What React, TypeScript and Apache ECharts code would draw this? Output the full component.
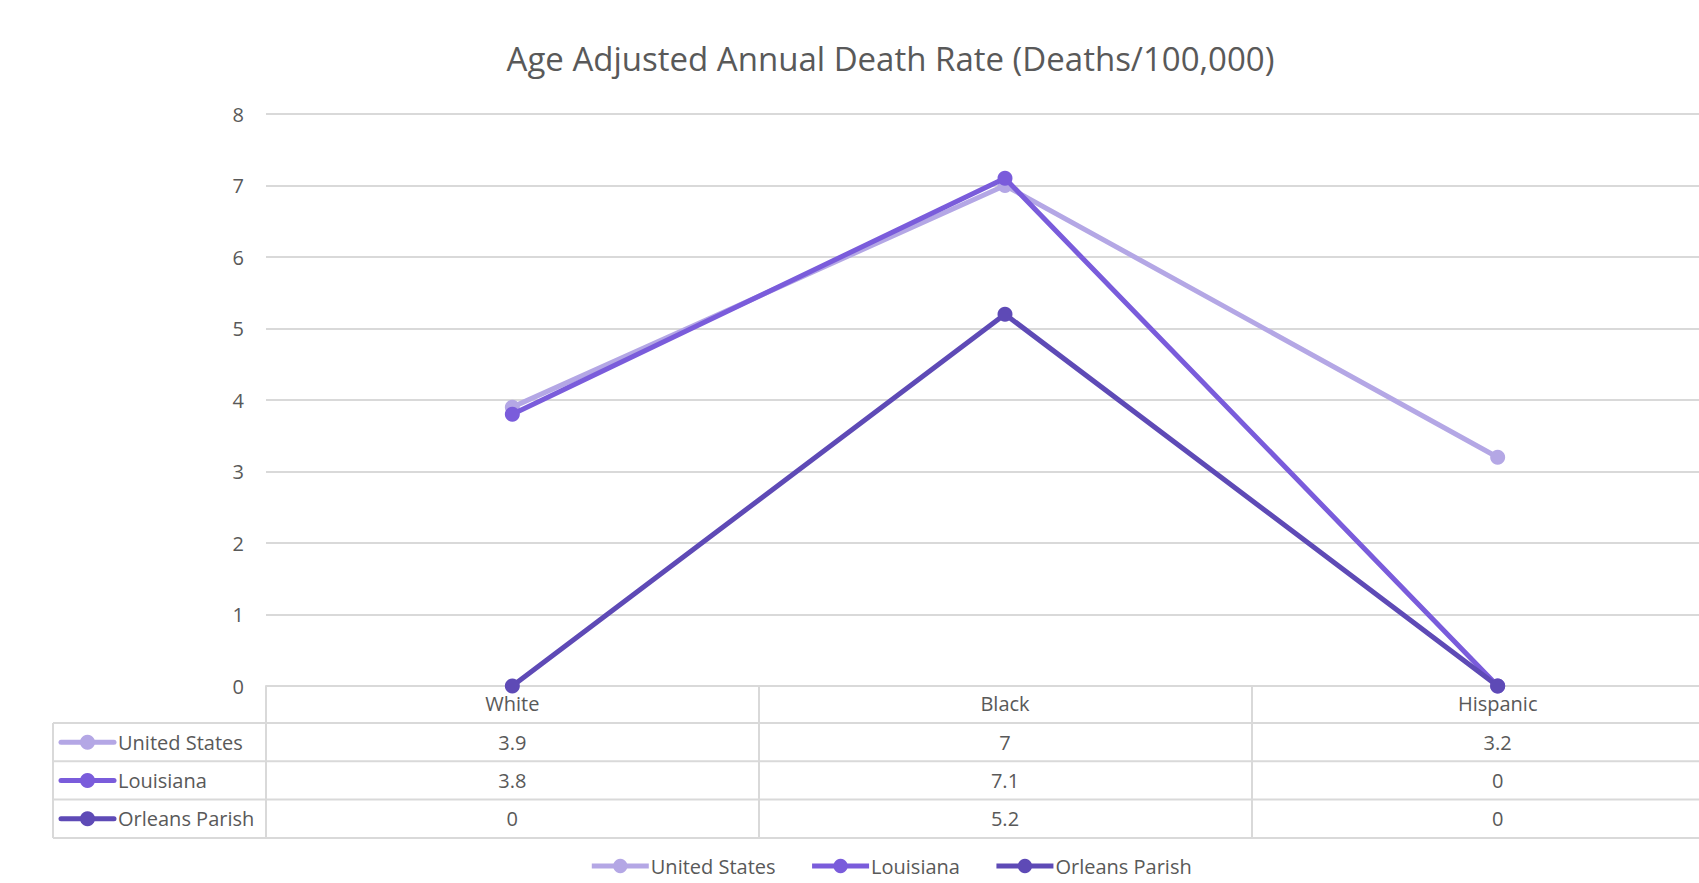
import React, { useEffect, useRef } from "react";
import * as echarts from "echarts";

const chartTitle = "Age Adjusted Annual Death Rate (Deaths/100,000)";
const categories = ["White", "Black", "Hispanic"];
const seriesNames = ["United States", "Louisiana", "Orleans Parish"];
const unitedStates = [3.9, 7, 3.2];
const louisiana = [3.8, 7.1, 0];
const orleansParish = [0, 5.2, 0];
const yMin = 0;
const yMax = 8;
const yInterval = 1;

const seriesValues = [unitedStates, louisiana, orleansParish];
const colors = ["#B4A7E5", "#7A5CDB", "#5E4AB6"];

const CHART_W = 1781;
const CHART_H = 883;
const GRID_LEFT = 266;
const GRID_RIGHT = 37;
const GRID_TOP = 114;
const AXIS_Y = 686;
const HEADER_H = 37;
const ROW_H = 38.3;
const TABLE_LEFT = 53;
const TEXT_COLOR = "#595959";
const LINE_COLOR = "#D9D9D9";
const FONT = "'Open Sans', 'Noto Sans', sans-serif";
const FS = 20;

export default function App() {
  const ref = useRef<HTMLDivElement>(null);
  useEffect(() => {
    if (!ref.current) return;
    const chart = echarts.init(ref.current, null, { renderer: "svg" });
    const option: any = {
      animation: false,
      backgroundColor: "#ffffff",
      textStyle: { fontFamily: FONT },
      title: {
        text: chartTitle,
        left: "center",
        top: 37,
        textStyle: { fontFamily: FONT, fontSize: 33, fontWeight: "normal", color: TEXT_COLOR },
      },
      legend: {
        data: seriesNames,
        left: "center",
        top: 856,
        padding: 0,
        itemWidth: 57,
        itemHeight: 18,
        itemGap: 34,
        lineStyle: { width: 5 },
        textStyle: {
          fontFamily: FONT,
          fontSize: FS,
          lineHeight: 20,
          color: TEXT_COLOR,
          padding: [0, 0, 0, -3],
        },
      },
      grid: {
        left: GRID_LEFT,
        right: GRID_RIGHT,
        top: GRID_TOP,
        bottom: CHART_H - AXIS_Y,
        containLabel: false,
      },
      xAxis: {
        type: "category",
        data: categories,
        boundaryGap: true,
        axisLine: { show: true, lineStyle: { color: LINE_COLOR, width: 2 } },
        axisTick: {
          show: true,
          interval: 0,
          length: HEADER_H + ROW_H * 3,
          lineStyle: { color: LINE_COLOR, width: 2 },
        },
        axisLabel: { color: TEXT_COLOR, fontSize: FS, fontFamily: FONT, margin: 7, interval: 0 },
        splitLine: { show: false },
      },
      yAxis: {
        type: "value",
        min: yMin,
        max: yMax,
        interval: yInterval,
        axisLine: { show: false },
        axisTick: { show: false },
        axisLabel: { color: TEXT_COLOR, fontSize: FS, fontFamily: FONT, margin: 22 },
        splitLine: { show: true, lineStyle: { color: LINE_COLOR, width: 2 } },
      },
      series: seriesNames.map((name, i) => ({
        name,
        type: "line",
        data: seriesValues[i],
        color: colors[i],
        symbol: "circle",
        symbolSize: 15,
        lineStyle: { width: 5, color: colors[i] },
        itemStyle: { color: colors[i] },
        z: 2 + i,
      })),
    };
    chart.setOption(option);

    const rightX = CHART_W - GRID_RIGHT;
    const elements: any[] = [];
    for (let r = 0; r <= seriesNames.length; r++) {
      const y = AXIS_Y + HEADER_H + r * ROW_H;
      elements.push({
        type: "line",
        shape: { x1: TABLE_LEFT, y1: y, x2: rightX, y2: y },
        style: { stroke: LINE_COLOR, lineWidth: 2 },
        silent: true,
      });
    }
    elements.push({
      type: "line",
      shape: {
        x1: TABLE_LEFT,
        y1: AXIS_Y + HEADER_H,
        x2: TABLE_LEFT,
        y2: AXIS_Y + HEADER_H + ROW_H * seriesNames.length,
      },
      style: { stroke: LINE_COLOR, lineWidth: 2 },
      silent: true,
    });
    seriesNames.forEach((name, r) => {
      const cy = AXIS_Y + HEADER_H + r * ROW_H + ROW_H / 2;
      elements.push({
        type: "line",
        shape: { x1: 61, y1: cy, x2: 114, y2: cy },
        style: { stroke: colors[r], lineWidth: 5, lineCap: "round" },
        silent: true,
      });
      elements.push({
        type: "circle",
        shape: { cx: 87.5, cy, r: 7.5 },
        style: { fill: colors[r] },
        silent: true,
      });
      elements.push({
        type: "text",
        x: 118,
        y: cy,
        style: {
          text: name,
          fontFamily: FONT,
          fontSize: FS,
          fill: TEXT_COLOR,
          textAlign: "left",
          textVerticalAlign: "middle",
        },
        silent: true,
      });
      seriesValues[r].forEach((v, c) => {
        const px = chart.convertToPixel({ xAxisIndex: 0 }, c) as number;
        elements.push({
          type: "text",
          x: px,
          y: cy,
          style: {
            text: String(v),
            fontFamily: FONT,
            fontSize: FS,
            fill: TEXT_COLOR,
            textAlign: "center",
            textVerticalAlign: "middle",
          },
          silent: true,
        });
      });
    });
    chart.setOption({ graphic: { elements } });

    return () => chart.dispose();
  }, []);

  return (
    <div
      style={{
        position: "fixed",
        left: 0,
        top: 0,
        width: 1699,
        height: 883,
        overflow: "hidden",
        background: "#fff",
      }}
    >
      <div ref={ref} style={{ width: CHART_W, height: CHART_H }} />
    </div>
  );
}
